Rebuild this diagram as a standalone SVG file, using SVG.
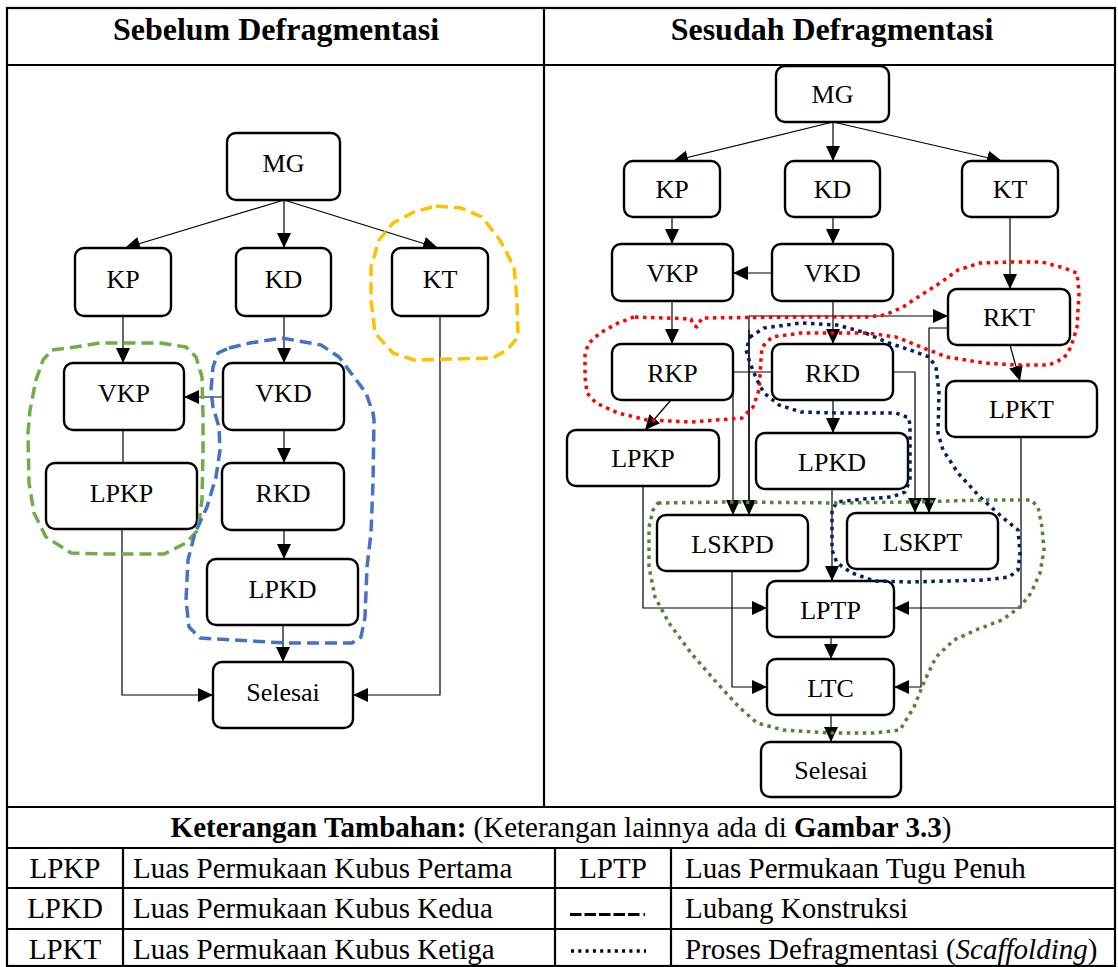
<svg xmlns="http://www.w3.org/2000/svg" width="1118" height="967" viewBox="0 0 1118 967">
  <defs>
    <marker id="arrow" markerUnits="userSpaceOnUse" markerWidth="15" markerHeight="14" refX="15" refY="7" orient="auto">
      <path d="M0,0 L15,7 L0,14 z" fill="#000"/>
    </marker>
    <style>
      .grid { stroke: #000; stroke-width: 2.2; fill: none; }
      .node rect { fill: #fff; stroke: #000; stroke-width: 2.4; }
      .node text { font-family: "Liberation Serif", "Times New Roman", serif; font-size: 26px; text-anchor: middle; fill: #000; }
      .edge { stroke: #000; stroke-width: 1.2; fill: none; }
      .arr { marker-end: url(#arrow); }
      .head { font-family: "Liberation Serif", "Times New Roman", serif; font-size: 32px; font-weight: bold; text-anchor: middle; }
      .cell { font-family: "Liberation Serif", "Times New Roman", serif; font-size: 29px; fill: #000; }
      .mid { text-anchor: middle; }
      .dash { fill: none; stroke-width: 3.5; stroke-dasharray: 12 6; stroke-linejoin: round; }
      .dot { fill: none; stroke-width: 3.5; stroke-dasharray: 3.5 4.5; stroke-linejoin: round; }
    </style>
  </defs>

  <rect width="1118" height="967" fill="#fff"/>

  <!-- table frame -->
  <g id="table">
    <rect class="grid" x="7" y="8" width="1108" height="958"/>
    <line class="grid" x1="7" y1="65" x2="1115" y2="65"/>
    <line class="grid" x1="544" y1="8" x2="544" y2="807"/>
    <line class="grid" x1="7" y1="807" x2="1115" y2="807"/>
    <line class="grid" x1="7" y1="848" x2="1115" y2="848"/>
    <line class="grid" x1="7" y1="888" x2="1115" y2="888"/>
    <line class="grid" x1="7" y1="929" x2="1115" y2="929"/>
    <line class="grid" x1="123" y1="848" x2="123" y2="966"/>
    <line class="grid" x1="555" y1="848" x2="555" y2="966"/>
    <line class="grid" x1="671" y1="848" x2="671" y2="966"/>
    <text class="head" x="276" y="40">Sebelum Defragmentasi</text>
    <text class="head" x="832" y="40">Sesudah Defragmentasi</text>
  </g>

  <!-- legend -->
  <g id="legend">
    <text class="cell mid" x="561" y="837"><tspan font-weight="bold">Keterangan Tambahan:</tspan> (Keterangan lainnya ada di <tspan font-weight="bold">Gambar 3.3</tspan>)</text>
    <text class="cell mid" x="65" y="878">LPKP</text>
    <text class="cell" x="133" y="878">Luas Permukaan Kubus Pertama</text>
    <text class="cell mid" x="613" y="878">LPTP</text>
    <text class="cell" x="685" y="878">Luas Permukaan Tugu Penuh</text>
    <text class="cell mid" x="65" y="918">LPKD</text>
    <text class="cell" x="133" y="918">Luas Permukaan Kubus Kedua</text>
    <line x1="570" y1="914.5" x2="640" y2="914.5" stroke="#000" stroke-width="3.2" stroke-dasharray="11.5 3"/>
    <rect x="643.5" y="913" width="1.6" height="3" fill="#000"/>
    <text class="cell" x="685" y="918">Lubang Konstruksi</text>
    <text class="cell mid" x="65" y="959">LPKT</text>
    <text class="cell" x="133" y="959">Luas Permukaan Kubus Ketiga</text>
    <line x1="571" y1="951" x2="646" y2="951" stroke="#000" stroke-width="3.4" stroke-dasharray="3 4.3"/>
    <text class="cell" x="685" y="959">Proses Defragmentasi (<tspan font-style="italic">Scaffolding</tspan>)</text>
  </g>

  <!-- connectors -->
  <g id="connectors">
    <!-- left flow -->
    <line class="edge arr" x1="284" y1="200" x2="125" y2="248"/>
    <line class="edge arr" x1="284" y1="200" x2="284" y2="248"/>
    <line class="edge arr" x1="284" y1="200" x2="438" y2="248"/>
    <line class="edge arr" x1="123" y1="316" x2="123" y2="363"/>
    <line class="edge arr" x1="284" y1="316" x2="284" y2="363"/>
    <line class="edge arr" x1="223" y1="397" x2="184" y2="397"/>
    <line class="edge" x1="123" y1="430" x2="123" y2="463"/>
    <line class="edge arr" x1="284" y1="430" x2="284" y2="463"/>
    <line class="edge arr" x1="284" y1="530" x2="284" y2="559"/>
    <line class="edge arr" x1="283" y1="625" x2="283" y2="662"/>
    <polyline class="edge arr" points="122,529 122,695 213,695"/>
    <polyline class="edge arr" points="440,316 440,695 353,695"/>

    <!-- right flow -->
    <line class="edge arr" x1="833" y1="122" x2="673" y2="161"/>
    <line class="edge arr" x1="833" y1="122" x2="833" y2="161"/>
    <line class="edge arr" x1="833" y1="122" x2="1002" y2="161"/>
    <line class="edge arr" x1="672" y1="217" x2="672" y2="244"/>
    <line class="edge arr" x1="833" y1="217" x2="833" y2="244"/>
    <line class="edge arr" x1="772" y1="273" x2="733" y2="273"/>
    <line class="edge arr" x1="672" y1="301" x2="672" y2="344"/>
    <line class="edge arr" x1="833" y1="301" x2="833" y2="344"/>
    <line class="edge arr" x1="1010" y1="217" x2="1010" y2="289"/>
    <line class="edge arr" x1="1010" y1="345" x2="1020" y2="381"/>
    <line class="edge arr" x1="671" y1="400" x2="645" y2="430"/>
    <line class="edge arr" x1="833" y1="400" x2="833" y2="433"/>
    <line class="edge" x1="733" y1="372" x2="772" y2="372"/>
    <line class="edge arr" x1="733" y1="372" x2="733" y2="515"/>
    <polyline class="edge arr" points="749,516 749,316 948,316"/>
    <line class="edge arr" x1="749" y1="330" x2="749" y2="515"/>
    <polyline class="edge arr" points="893,372 915,372 915,513"/>
    <polyline class="edge arr" points="948,328 929,328 929,513"/>
    <line class="edge arr" x1="832" y1="489" x2="832" y2="581"/>
    <polyline class="edge arr" points="643,486 643,608 767,608"/>
    <polyline class="edge arr" points="1021,437 1021,608 894,608"/>
    <polyline class="edge arr" points="732,571 732,687 767,687"/>
    <polyline class="edge arr" points="921,569 921,687 894,687"/>
    <line class="edge arr" x1="831" y1="637" x2="831" y2="659"/>
    <line class="edge arr" x1="831" y1="715" x2="831" y2="742"/>
  </g>

  <!-- left panel nodes -->
  <g id="l-mg" class="node"><rect x="227" y="133" width="113" height="67" rx="9"/><text x="283.5" y="172">MG</text></g>
  <g id="l-kp" class="node"><rect x="75" y="248" width="96" height="68" rx="9"/><text x="123" y="288">KP</text></g>
  <g id="l-kd" class="node"><rect x="236" y="248" width="95" height="68" rx="9"/><text x="283.5" y="288">KD</text></g>
  <g id="l-kt" class="node"><rect x="392" y="248" width="96" height="68" rx="9"/><text x="440" y="288">KT</text></g>
  <g id="l-vkp" class="node"><rect x="64" y="363" width="120" height="67" rx="9"/><text x="124" y="402">VKP</text></g>
  <g id="l-vkd" class="node"><rect x="223" y="363" width="121" height="67" rx="9"/><text x="283.5" y="402">VKD</text></g>
  <g id="l-lpkp" class="node"><rect x="46" y="463" width="151" height="66" rx="9"/><text x="121.5" y="502">LPKP</text></g>
  <g id="l-rkd" class="node"><rect x="222" y="463" width="122" height="67" rx="9"/><text x="283" y="502">RKD</text></g>
  <g id="l-lpkd" class="node"><rect x="207" y="559" width="151" height="66" rx="9"/><text x="282.5" y="598">LPKD</text></g>
  <g id="l-selesai" class="node"><rect x="213" y="662" width="140" height="66" rx="9"/><text x="283" y="701">Selesai</text></g>

  <!-- right panel nodes -->
  <g id="r-mg" class="node"><rect x="776" y="66" width="113" height="56" rx="9"/><text x="832.5" y="103">MG</text></g>
  <g id="r-kp" class="node"><rect x="624" y="161" width="96" height="56" rx="9"/><text x="672" y="198">KP</text></g>
  <g id="r-kd" class="node"><rect x="785" y="161" width="95" height="56" rx="9"/><text x="832.5" y="198">KD</text></g>
  <g id="r-kt" class="node"><rect x="962" y="161" width="96" height="56" rx="9"/><text x="1010" y="198">KT</text></g>
  <g id="r-vkp" class="node"><rect x="612" y="244" width="121" height="57" rx="9"/><text x="672.5" y="282">VKP</text></g>
  <g id="r-vkd" class="node"><rect x="772" y="244" width="121" height="57" rx="9"/><text x="832.5" y="282">VKD</text></g>
  <g id="r-rkt" class="node"><rect x="948" y="289" width="122" height="56" rx="9"/><text x="1009" y="326">RKT</text></g>
  <g id="r-rkp" class="node"><rect x="612" y="344" width="121" height="56" rx="9"/><text x="672.5" y="382">RKP</text></g>
  <g id="r-rkd" class="node"><rect x="772" y="344" width="121" height="56" rx="9"/><text x="832.5" y="382">RKD</text></g>
  <g id="r-lpkt" class="node"><rect x="946" y="381" width="151" height="56" rx="9"/><text x="1021.5" y="418">LPKT</text></g>
  <g id="r-lpkp" class="node"><rect x="567" y="430" width="152" height="56" rx="9"/><text x="643" y="467">LPKP</text></g>
  <g id="r-lpkd" class="node"><rect x="756" y="433" width="152" height="56" rx="9"/><text x="832" y="471">LPKD</text></g>
  <g id="r-lskpd" class="node"><rect x="657" y="515" width="151" height="56" rx="9"/><text x="732.5" y="553">LSKPD</text></g>
  <g id="r-lskpt" class="node"><rect x="847" y="513" width="151" height="56" rx="9"/><text x="922.5" y="551">LSKPT</text></g>
  <g id="r-lptp" class="node"><rect x="767" y="581" width="127" height="56" rx="9"/><text x="830.5" y="619">LPTP</text></g>
  <g id="r-ltc" class="node"><rect x="767" y="659" width="127" height="56" rx="9"/><text x="830.5" y="697">LTC</text></g>
  <g id="r-selesai" class="node"><rect x="761" y="742" width="140" height="55" rx="9"/><text x="831" y="779">Selesai</text></g>

  <!-- construction holes (dashed) -->
  <g id="holes">
    <path class="dash" stroke="#70AD47" d="M52,350 L75,347 L100,343 L161,343 L186,347 L196,357 L202,377 L203,417 L203,450 L202,500 L198,530 L186,543 L164,554 L107,554 L71,553 L46,537 L34,513 L29,483 L28,433 L30,410 L36,380 L43,360 Z"/>
    <path class="dash" stroke="#4472C4" d="M229,348 L250,343 L282,338 L321,345 L339,357 L354,377 L366,393 L373,413 L374,420 L373,483 L371,533 L367,567 L365,617 L361,637 L352,643 L286,643 L200,638 L189,627 L186,600 L188,560 L195,533 L207,507 L216,477 L220,450 L219,427 L213,407 L211,390 L213,367 L218,353 Z"/>
    <path class="dash" stroke="#FFC000" d="M436,206 L461,208 L482,217 L500,240 L514,267 L517,300 L518,337 L507,350 L493,358 L414,360 L393,353 L375,333 L371,300 L371,267 L379,240 L393,223 L414,212 Z"/>
  </g>

  <!-- defragmentation scaffolding (dotted) -->
  <g id="scaffolding">
    <path class="dot" stroke="#FF0000" d="M634,317 L618,323 L600,333 L589,343 L585,353 L585,377 L587,393 L596,403 L618,413 L647,420 L691,422 L742,418 L753,407 L759,390 L761,360 L762,347 L772,337 L801,333 L867,333 L896,337 L921,347 L947,357 L984,363 L1016,365 L1049,365 L1064,358 L1071,347 L1077,327 L1079,293 L1077,273 L1064,268 L1042,262 L1013,262 L980,263 L958,270 L940,283 L918,297 L903,307 L885,315 L867,317 L801,317 L702,318 L697,327 L693,325 L691,319 L666,318 Z"/>
    <path class="dot" stroke="#002060" d="M750,337 L764,328 L801,323 L837,325 L863,332 L889,343 L910,350 L929,357 L936,367 L939,393 L938,433 L943,450 L958,473 L980,497 L1002,517 L1018,530 L1020,553 L1018,570 L1009,577 L984,580 L910,582 L874,581 L852,573 L837,563 L832,550 L832,510 L837,502 L863,499 L892,497 L905,492 L910,480 L910,427 L909,418 L896,413 L837,413 L801,412 L779,405 L764,393 L757,380 L750,363 L746,350 Z"/>
    <path class="dot" stroke="#548235" d="M658,503 L728,502 L837,503 L910,502 L984,500 L1031,500 L1038,507 L1042,527 L1044,550 L1040,573 L1031,593 L1020,607 L1002,620 L976,630 L954,640 L936,657 L925,680 L914,707 L900,730 L874,733 L830,733 L783,730 L757,723 L739,707 L717,683 L691,653 L669,623 L655,597 L649,567 L649,527 L653,510 Z"/>
  </g>
</svg>
